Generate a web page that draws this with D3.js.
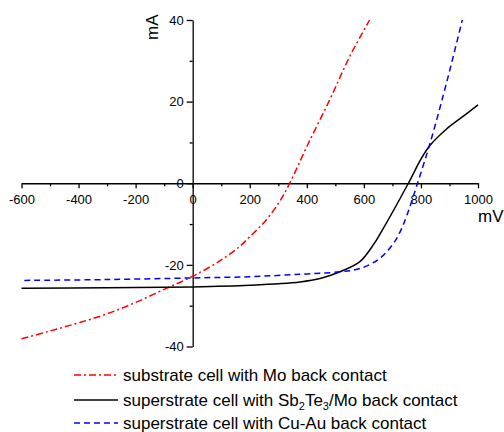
<!DOCTYPE html>
<html>
<head>
<meta charset="utf-8">
<script src="https://cdn.jsdelivr.net/npm/d3@7"></script>
<style>
  body { margin: 0; background: #fff; }
  text { font-family: "Liberation Sans", Arial, sans-serif; fill: #000; }
</style>
</head>
<body>
<div id="chart"></div>
<script>
//====[ data ]====//
const redV = [-600, -500, -400, -300, -200, -100, 0, 100, 166, 200, 250, 300, 340, 400, 480, 550, 620]
const redI = [-38.1, -36.2, -34.2, -32.0, -29.2, -26.0, -22.8, -18.8, -15.4, -13.1, -9.6, -5.0, 0, 9.0, 20.4, 31.0, 40.0]

const blackV = [-600, -300, 0, 200, 376, 450, 516, 586, 633, 662, 756, 800, 832, 890, 950, 1000]
const blackI = [-25.7, -25.6, -25.4, -25.0, -24.2, -23.3, -21.7, -19.2, -15.1, -11.8, 0, 5.9, 9.3, 13.3, 16.5, 19.2]

const blueV = [-590, -300, 0, 200, 376, 516, 586, 656, 703, 727, 750, 788, 832, 878, 913, 945]
const blueI = [-23.8, -23.6, -23.2, -22.9, -22.3, -21.7, -20.9, -18.4, -14.8, -11.9, -8.0, 0, 9.8, 21.5, 31.0, 40.0]

const xMajor = [-600, -400, -200, 0, 200, 400, 600, 800, 1000]
const xMinor = [-500, -300, -100, 100, 300, 500, 700, 900]
const yMajor = [-40, -20, 0, 20, 40]
const yMinor = [-30, -10, 10, 30]

const legendNames = ['substrate cell with Mo back contact',
                     'superstrate cell with Sb2Te3/Mo back contact',
                     'superstrate cell with Cu-Au back contact']

//====[ svg ]====//
const svgw = 504, svgh = 432
const svg = d3.select('#chart').append('svg')
    .attr('width', svgw)
    .attr('height', svgh)

const x = d3.scaleLinear().domain([-600, 1000]).range([21.5, 478])
const y = d3.scaleLinear().domain([-40, 40]).range([346.5, 20])

//====[ axes ]====//
const noLabel = () => ''
const plain = d => String(d)   // plain hyphen minus, like the original

const gx = svg.append('g').attr('transform', 'translate(0,' + y(0) + ')')
gx.call(d3.axisBottom(x).tickValues(xMinor).tickSize(3).tickFormat(noLabel).tickSizeOuter(0))
gx.select('.domain').remove()
const gx2 = svg.append('g').attr('transform', 'translate(0,' + y(0) + ')')
gx2.call(d3.axisBottom(x).tickValues(xMajor).tickSize(5).tickPadding(7).tickSizeOuter(0)
    .tickFormat(plain))

const gy = svg.append('g').attr('transform', 'translate(' + x(0) + ',0)')
gy.call(d3.axisLeft(y).tickValues(yMinor).tickSize(3).tickFormat(noLabel).tickSizeOuter(0))
gy.select('.domain').remove()
const gy2 = svg.append('g').attr('transform', 'translate(' + x(0) + ',0)')
gy2.call(d3.axisLeft(y).tickValues(yMajor).tickSize(6).tickPadding(3).tickSizeOuter(0)
    .tickFormat(plain))

svg.selectAll('.domain, .tick line').attr('stroke', '#000').attr('stroke-width', 1.3)
svg.selectAll('.tick text')
    .style('font-family', '"Liberation Sans", Arial, sans-serif')
    .style('font-size', '13px')
    .attr('fill', '#000')

svg.append('text').attr('x', 478).attr('y', 222)
    .style('font-size', '17px').text('mV')
svg.append('text').attr('transform', 'translate(158,40) rotate(-90)')
    .style('font-size', '17px').text('mA')

//====[ curves ]====//
const series = [
    {v: redV, i: redI, color: '#ff0000', dash: '7,3,2,3'},
    {v: blackV, i: blackI, color: '#000000', dash: null},
    {v: blueV, i: blueI, color: '#0000ff', dash: '6,4'},
]

const line = d3.line()
    .x(d => x(d[0]))
    .y(d => y(d[1]))
    .curve(d3.curveCatmullRom.alpha(0.5))

svg.selectAll('path.curve')
    .data(series)
    .enter()
    .append('path')
    .classed('curve', true)
    .attr('d', s => line(s.v.map((v, k) => [v, s.i[k]])))
    .attr('fill', 'none')
    .attr('stroke', s => s.color)
    .attr('stroke-width', 1.5)
    .attr('stroke-dasharray', s => s.dash)

//====[ legend ]====//
const legY = [375, 400, 423]
const leg = svg.selectAll('g.leg')
    .data(series)
    .enter()
    .append('g')
    .classed('leg', true)
    .attr('transform', (d, k) => 'translate(0,' + legY[k] + ')')

leg.append('line')
    .attr('x1', 74).attr('x2', 118)
    .attr('y1', 0).attr('y2', 0)
    .attr('stroke', d => d.color)
    .attr('stroke-width', 1.5)
    .attr('stroke-dasharray', d => d.dash)

leg.append('text')
    .attr('x', 123).attr('y', 6)
    .style('font-size', '17px')
    .each(function (d, k) {
        const t = d3.select(this)
        if (k === 1) {
            t.append('tspan').text('superstrate cell with Sb')
            t.append('tspan').attr('dy', 4).style('font-size', '11px').text('2')
            t.append('tspan').attr('dy', -4).text('Te')
            t.append('tspan').attr('dy', 4).style('font-size', '11px').text('3')
            t.append('tspan').attr('dy', -4).text('/Mo back contact')
        } else {
            t.text(legendNames[k])
        }
    })
</script>
</body>
</html>
